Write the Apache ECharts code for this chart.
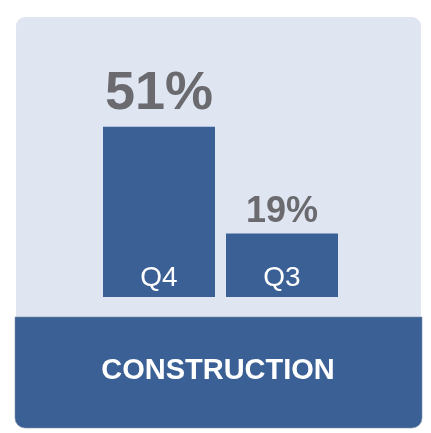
<!DOCTYPE html>
<html>
<head>
<meta charset="utf-8">
<script src="https://cdn.jsdelivr.net/npm/echarts@6/dist/echarts.min.js"></script>
<style>
  html, body { margin: 0; padding: 0; background: #fff; }
  #chart { width: 431px; height: 433px; }
</style>
</head>
<body>
<div id="chart"></div>
<script>
// data
const quarters = ['Q4', 'Q3'];
const shares = [51, 19];
const labelSizes = [54, 36];
const labelGaps = [6, 3];
const sectorName = 'CONSTRUCTION';

const barBlue = '#3a6096';
const panelBg = '#dfe6f1';
const labelGrey = '#6a6a6f';

const chart = echarts.init(document.getElementById('chart'));

const option = {
    animation: false,
    textStyle: { fontFamily: 'Liberation Sans, Arial, sans-serif' },
    graphic: [
        {
            type: 'rect',
            z: 0,
            shape: { x: 16, y: 17, width: 405, height: 400, r: 9 },
            style: { fill: panelBg }
        },
        {
            type: 'rect',
            z: 1,
            shape: { x: 15, y: 317, width: 407, height: 111, r: [0, 0, 10, 10] },
            style: { fill: barBlue, stroke: '#7f8ea6', lineWidth: 0.6 }
        },
        {
            type: 'text',
            z: 3,
            x: 218,
            y: 371,
            style: {
                text: sectorName,
                fill: '#ffffff',
                font: 'bold 29px "Liberation Sans", Arial, sans-serif',
                align: 'center',
                verticalAlign: 'middle'
            }
        }
    ],
    grid: { left: 97.5, width: 246, top: 96.6, bottom: 136 },
    xAxis: {
        type: 'category',
        data: quarters,
        axisLine: { show: false },
        axisTick: { show: false },
        axisLabel: {
            inside: true,
            margin: 5,
            color: '#ffffff',
            fontSize: 28
        },
        z: 5
    },
    yAxis: {
        type: 'value',
        min: 0,
        max: 60,
        show: false,
        splitLine: { show: false }
    },
    series: [
        {
            type: 'bar',
            barWidth: 112,
            z: 2,
            itemStyle: { color: barBlue },
            label: {
                show: true,
                position: 'top',
                formatter: '{c}%',
                color: labelGrey,
                fontWeight: 'bold'
            },
            data: shares.map((v, i) => ({
                value: v,
                label: { fontSize: labelSizes[i], distance: labelGaps[i] }
            }))
        }
    ]
};

chart.setOption(option);
</script>
</body>
</html>
